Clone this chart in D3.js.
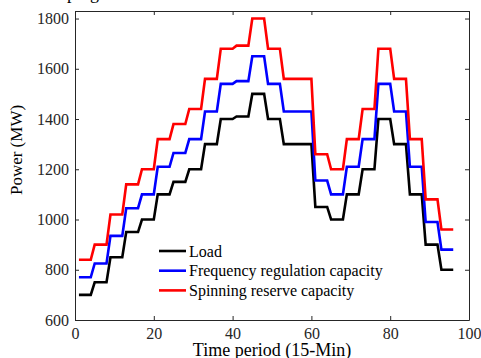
<!DOCTYPE html>
<html>
<head>
  <meta charset="utf-8">
  <style>
    body { margin: 0; background: #fff; }
    svg text { font-family: "Liberation Serif", "Times New Roman", serif; }
    .axis path, .axis line { stroke: #262626; }
    .axis text { font-size: 16px; fill: #262626; }
  </style>
  <script src="https://d3js.org/d3.v7.min.js"></script>
</head>
<body>
  <script>
    // 15-min periods, 1..96
    const periods = d3.range(1, 97);

    const load = [
      700, 700, 700, 700, 750, 750, 750, 750, 850, 850, 850, 850,
      950, 950, 950, 950, 1000, 1000, 1000, 1000, 1100, 1100, 1100, 1100,
      1150, 1150, 1150, 1150, 1200, 1200, 1200, 1200, 1300, 1300, 1300, 1300,
      1400, 1400, 1400, 1400, 1410, 1410, 1410, 1410, 1500, 1500, 1500, 1500,
      1400, 1400, 1400, 1400, 1300, 1300, 1300, 1300, 1300, 1300, 1300, 1300,
      1050, 1050, 1050, 1050, 1000, 1000, 1000, 1000, 1100, 1100, 1100, 1100,
      1200, 1200, 1200, 1200, 1400, 1400, 1400, 1400, 1300, 1300, 1300, 1300,
      1100, 1100, 1100, 1100, 900, 900, 900, 900, 800, 800, 800, 800
    ];
    const freqReg = [
      770, 770, 770, 770, 825, 825, 825, 825, 935, 935, 935, 935,
      1045, 1045, 1045, 1045, 1100, 1100, 1100, 1100, 1210, 1210, 1210, 1210,
      1265, 1265, 1265, 1265, 1320, 1320, 1320, 1320, 1430, 1430, 1430, 1430,
      1540, 1540, 1540, 1540, 1551, 1551, 1551, 1551, 1650, 1650, 1650, 1650,
      1540, 1540, 1540, 1540, 1430, 1430, 1430, 1430, 1430, 1430, 1430, 1430,
      1155, 1155, 1155, 1155, 1100, 1100, 1100, 1100, 1210, 1210, 1210, 1210,
      1320, 1320, 1320, 1320, 1540, 1540, 1540, 1540, 1430, 1430, 1430, 1430,
      1210, 1210, 1210, 1210, 990, 990, 990, 990, 880, 880, 880, 880
    ];
    const spinRes = [
      840, 840, 840, 840, 900, 900, 900, 900, 1020, 1020, 1020, 1020,
      1140, 1140, 1140, 1140, 1200, 1200, 1200, 1200, 1320, 1320, 1320, 1320,
      1380, 1380, 1380, 1380, 1440, 1440, 1440, 1440, 1560, 1560, 1560, 1560,
      1680, 1680, 1680, 1680, 1692, 1692, 1692, 1692, 1800, 1800, 1800, 1800,
      1680, 1680, 1680, 1680, 1560, 1560, 1560, 1560, 1560, 1560, 1560, 1560,
      1260, 1260, 1260, 1260, 1200, 1200, 1200, 1200, 1320, 1320, 1320, 1320,
      1440, 1440, 1440, 1440, 1680, 1680, 1680, 1680, 1560, 1560, 1560, 1560,
      1320, 1320, 1320, 1320, 1080, 1080, 1080, 1080, 960, 960, 960, 960
    ];

    const seriesNames = ["Load", "Frequency regulation capacity", "Spinning reserve capacity"];
    const seriesColors = ["#000000", "#0000ff", "#ff0000"];
    const xTicks = [0, 20, 40, 60, 80, 100];
    const yTicks = [600, 800, 1000, 1200, 1400, 1600, 1800];

    const width = 481, height = 358;
    const margin = { left: 75, right: 12, top: 11, bottom: 38 };
    const iw = width - margin.left - margin.right,
          ih = height - margin.top - margin.bottom;
    const serif = "'Liberation Serif', 'Times New Roman', serif";

    const svg = d3.select("body").append("svg")
      .attr("width", width)
      .attr("height", height);

    const x = d3.scaleLinear().domain([0, 100]).range([0, iw]);
    const y = d3.scaleLinear().domain([600, 1830]).range([ih, 0]);

    // title above the axes, cut off by the top edge
    svg.append("text")
      .attr("x", 67).attr("y", -1)
      .style("font-size", "18px")
      .text("ping");

    const g = svg.append("g")
      .attr("transform", `translate(${margin.left},${margin.top})`);

    const fmt = d3.format("d");

    // axes, ticks pointing inward, box on all sides
    g.append("g").attr("class", "axis")
      .attr("transform", `translate(0,${ih})`)
      .call(d3.axisBottom(x).tickValues(xTicks).tickFormat(fmt).tickSize(-4).tickPadding(8).tickSizeOuter(0));
    g.append("g").attr("class", "axis")
      .call(d3.axisLeft(y).tickValues(yTicks).tickFormat(fmt).tickSize(-4).tickPadding(6).tickSizeOuter(0));
    g.append("g").attr("class", "axis")
      .call(d3.axisTop(x).tickValues(xTicks).tickSize(-4).tickFormat("").tickSizeOuter(0));
    g.append("g").attr("class", "axis")
      .attr("transform", `translate(${iw},0)`)
      .call(d3.axisRight(y).tickValues(yTicks).tickSize(-4).tickFormat("").tickSizeOuter(0));

    g.selectAll(".axis").attr("font-family", null).attr("font-size", null);
    g.selectAll(".axis text").style("font-family", serif).style("font-size", "16px");

    const line = d3.line()
      .x((d, i) => x(periods[i]))
      .y(d => y(d));

    [load, freqReg, spinRes].forEach((s, k) => {
      g.append("path")
        .datum(s)
        .attr("fill", "none")
        .attr("stroke", seriesColors[k])
        .attr("stroke-width", 2.6)
        .attr("stroke-linejoin", "miter")
        .attr("d", line);
    });

    // legend
    const leg = g.append("g").attr("transform", "translate(84,240)");
    seriesNames.forEach((name, k) => {
      const row = leg.append("g").attr("transform", `translate(0,${k * 19.7})`);
      row.append("line")
        .attr("x1", 0).attr("x2", 27)
        .attr("stroke", seriesColors[k]).attr("stroke-width", 2.6);
      row.append("text")
        .attr("x", 30).attr("y", 5.5)
        .style("font-size", "16px")
        .text(name);
    });

    // axis titles
    svg.append("text")
      .attr("x", margin.left + iw / 2).attr("y", 356)
      .attr("text-anchor", "middle")
      .style("font-size", "18px")
      .text("Time period (15-Min)");

    svg.append("text")
      .attr("transform", "translate(22,150) rotate(-90)")
      .attr("text-anchor", "middle")
      .style("font-size", "17px")
      .text("Power (MW)");
  </script>
</body>
</html>
